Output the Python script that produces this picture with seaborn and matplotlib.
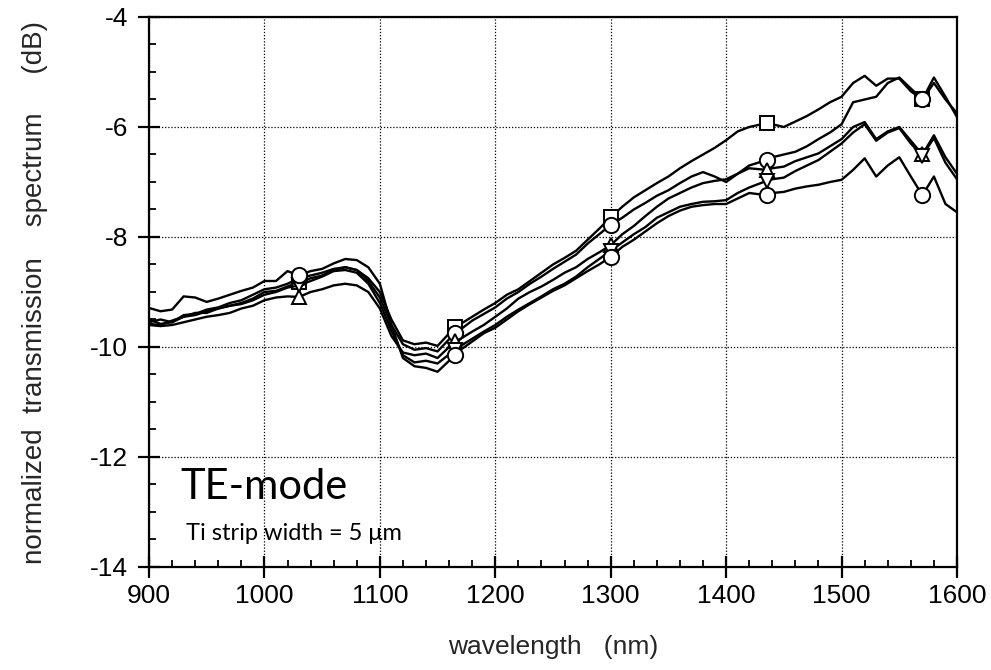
import numpy as np
import pandas as pd
import matplotlib
matplotlib.use("Agg")
import matplotlib.pyplot as plt
import seaborn as sns
from matplotlib.ticker import MultipleLocator

# ---------------- data ----------------
wavelength = [900, 910, 920, 930, 940, 950, 960, 970, 980, 990,
              1000, 1010, 1020, 1030, 1040, 1050, 1060, 1070, 1080, 1090,
              1100, 1110, 1120, 1130, 1140, 1150, 1165, 1170, 1180, 1190,
              1200, 1210, 1220, 1230, 1240, 1250, 1260, 1270, 1280, 1290,
              1300, 1310, 1320, 1330, 1340, 1350, 1360, 1370, 1380, 1390,
              1400, 1410, 1420, 1435, 1440, 1450, 1460, 1470, 1480, 1490,
              1500, 1510, 1520, 1530, 1540, 1550, 1560, 1570, 1580, 1590, 1600]

series_a = [-9.55, -9.50, -9.55, -9.45, -9.38, -9.38, -9.30, -9.25, -9.20, -9.12,
            -9.00, -8.98, -8.90, -8.82, -8.75, -8.70, -8.60, -8.55, -8.60, -8.75,
            -9.00, -9.50, -9.88, -9.95, -9.92, -9.98, -9.64, -9.58, -9.45, -9.32,
            -9.20, -9.05, -8.95, -8.80, -8.65, -8.50, -8.38, -8.25, -8.05, -7.85,
            -7.64, -7.45, -7.28, -7.15, -7.02, -6.90, -6.75, -6.62, -6.50, -6.38,
            -6.24, -6.08, -6.00, -5.93, -5.95, -6.00, -5.90, -5.80, -5.68, -5.55,
            -5.45, -5.20, -5.07, -5.25, -5.12, -5.12, -5.35, -5.50, -5.10, -5.45, -5.82]

series_b = [-9.50, -9.58, -9.55, -9.42, -9.40, -9.32, -9.28, -9.20, -9.15, -9.05,
            -8.95, -8.92, -8.85, -8.75, -8.70, -8.65, -8.58, -8.55, -8.60, -8.80,
            -9.10, -9.60, -9.95, -10.05, -10.02, -10.08, -9.75, -9.68, -9.52, -9.40,
            -9.28, -9.12, -9.00, -8.85, -8.72, -8.58, -8.45, -8.32, -8.12, -7.95,
            -7.78, -7.65, -7.50, -7.38, -7.25, -7.15, -7.02, -6.90, -6.82, -6.90,
            -7.00, -6.85, -6.70, -6.60, -6.55, -6.50, -6.45, -6.35, -6.22, -6.10,
            -5.95, -5.55, -5.50, -5.45, -5.20, -5.10, -5.30, -5.50, -5.20, -5.50, -5.75]

series_c = [-9.60, -9.62, -9.60, -9.55, -9.50, -9.45, -9.42, -9.38, -9.30, -9.25,
            -9.15, -9.10, -9.08, -9.09, -9.00, -8.95, -8.88, -8.85, -8.88, -9.00,
            -9.30, -9.80, -10.10, -10.15, -10.12, -10.20, -9.90, -9.85, -9.72, -9.60,
            -9.45, -9.30, -9.12, -9.00, -8.90, -8.78, -8.65, -8.55, -8.40, -8.28,
            -8.15, -7.95, -7.80, -7.62, -7.45, -7.30, -7.20, -7.10, -7.02, -6.98,
            -6.95, -6.85, -6.75, -6.78, -6.75, -6.72, -6.62, -6.55, -6.48, -6.35,
            -6.22, -6.00, -5.91, -6.22, -6.08, -6.00, -6.25, -6.50, -6.15, -6.55, -6.85]

series_d = [-9.58, -9.60, -9.52, -9.45, -9.42, -9.35, -9.30, -9.25, -9.22, -9.15,
            -9.05, -9.00, -8.92, -8.88, -8.80, -8.72, -8.62, -8.60, -8.65, -8.85,
            -9.20, -9.70, -10.15, -10.28, -10.25, -10.30, -10.05, -9.98, -9.85, -9.72,
            -9.60, -9.45, -9.32, -9.20, -9.08, -8.95, -8.85, -8.72, -8.55, -8.40,
            -8.25, -8.10, -7.95, -7.82, -7.65, -7.55, -7.45, -7.40, -7.36, -7.35,
            -7.33, -7.20, -7.10, -6.98, -6.95, -6.92, -6.80, -6.70, -6.60, -6.45,
            -6.30, -6.10, -5.95, -6.25, -6.10, -6.02, -6.30, -6.52, -6.20, -6.65, -6.95]

series_e = [-9.29, -9.35, -9.32, -9.08, -9.10, -9.18, -9.12, -9.05, -8.98, -8.92,
            -8.80, -8.80, -8.62, -8.70, -8.62, -8.58, -8.48, -8.40, -8.42, -8.55,
            -8.85, -9.60, -10.20, -10.35, -10.38, -10.45, -10.15, -10.05, -9.90, -9.75,
            -9.65, -9.50, -9.35, -9.22, -9.10, -8.98, -8.88, -8.75, -8.62, -8.50,
            -8.36, -8.18, -8.05, -7.90, -7.75, -7.62, -7.52, -7.45, -7.42, -7.40,
            -7.40, -7.30, -7.20, -7.24, -7.20, -7.18, -7.12, -7.08, -7.05, -7.00,
            -6.96, -6.78, -6.57, -6.90, -6.70, -6.55, -6.90, -7.24, -6.90, -7.40, -7.55]

marker_wavelengths = [1030, 1165, 1300, 1435, 1570]
x_ticks = [900, 1000, 1100, 1200, 1300, 1400, 1500, 1600]
y_ticks = [-14, -12, -10, -8, -6, -4]
y_tick_labels = ["-14", "-12", "-10", "-8", "-6", "-4"]

series_list = [series_a, series_b, series_c, series_d, series_e]
series_markers = ["s", "o", "^", "v", "o"]
series_msize = [10, 11, 10, 10, 11]

# ---------------- figure ----------------
sns.set_style("ticks")
plt.rcParams["font.family"] = ["Liberation Sans", "DejaVu Sans"]

fig = plt.figure(figsize=(9.91, 6.70), dpi=100)
ax = fig.add_axes([149 / 991, 1 - 567 / 670, (957 - 149) / 991, (567 - 17) / 670])

mark_idx = [wavelength.index(w) for w in marker_wavelengths]

for vals, m, ms in zip(series_list, series_markers, series_msize):
    df = pd.DataFrame({"wl": wavelength, "val": vals})
    sns.lineplot(data=df, x="wl", y="val", ax=ax, color="black",
                 linewidth=1.7, estimator=None, sort=False,
                 marker=m, markevery=mark_idx, markersize=ms,
                 markerfacecolor="white", markeredgecolor="black",
                 markeredgewidth=1.4, zorder=3)

ax.set_xlim(900, 1600)
ax.set_ylim(-14, -4)
ax.set_xticks(x_ticks)
ax.set_yticks(y_ticks, y_tick_labels)
ax.xaxis.set_minor_locator(MultipleLocator(20))
ax.yaxis.set_minor_locator(MultipleLocator(0.5))

ax.grid(True, which="major", color="black", linestyle=(0, (1, 1.5)), linewidth=0.9)
ax.tick_params(axis="both", which="major", direction="inout", length=16, width=1.6,
               labelsize=19, color="black", labelcolor="black",
               bottom=True, left=True, top=False, right=False)
ax.tick_params(axis="x", which="major", pad=4)
ax.tick_params(axis="y", which="major", pad=7)
ax.tick_params(axis="both", which="minor", direction="in", length=5, width=1.3,
               color="black", bottom=True, left=True, top=False, right=False)
for s in ax.spines.values():
    s.set_visible(True)
    s.set_color("black")
    s.set_linewidth(1.6)

ax.set_xlabel("wavelength   (nm)", fontsize=19, labelpad=20)
ax.set_ylabel("normalized  transmission    spectrum     (dB)", fontsize=20, labelpad=30)

ax.text(927, -12.2, "TE-mode", family=["Lato", "DejaVu Sans"], fontsize=30,
        va="top", ha="left", color="black")
ax.text(932, -13.2, "Ti strip width = 5 \u03bcm", family=["Lato", "DejaVu Sans"],
        fontsize=17, va="top", ha="left", color="black")

fig.savefig("out.png", dpi=100, facecolor="white")
